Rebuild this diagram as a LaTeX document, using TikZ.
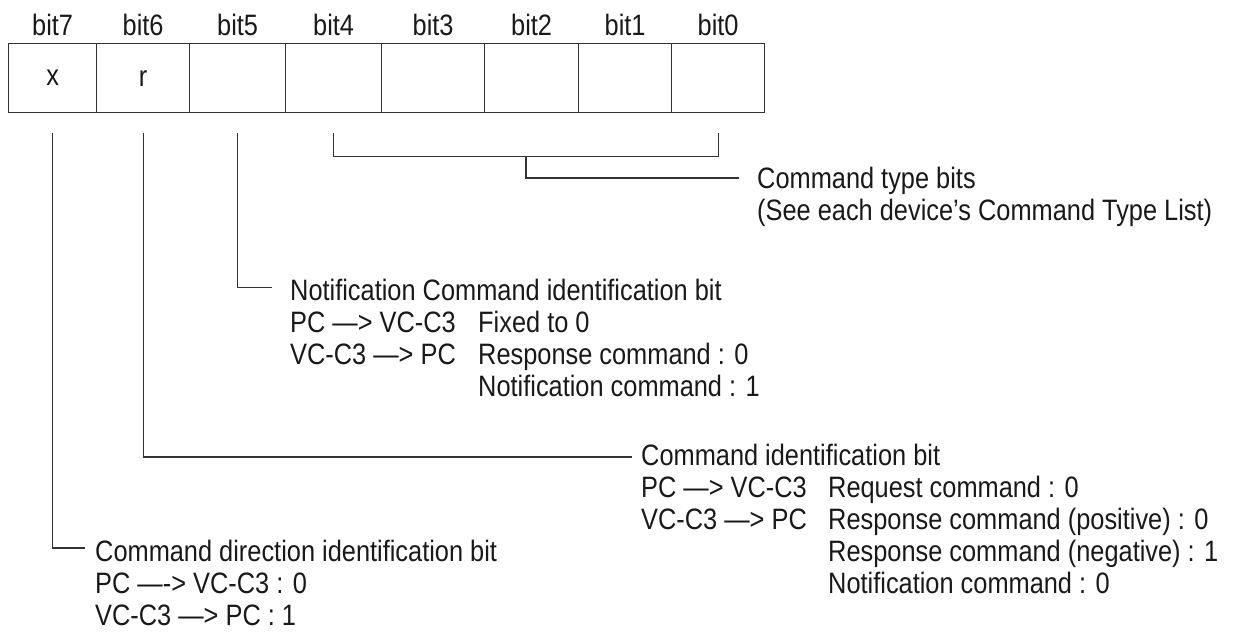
\documentclass[tikz,border=0pt]{standalone}
\usepackage{fontspec}
\setmainfont{Liberation Sans}[FakeStretch=0.86]
\usetikzlibrary{calc}
\begin{document}
\begin{tikzpicture}[x=1pt,y=-1pt,
  every node/.style={font=\fontsize{29.5}{35}\selectfont, inner sep=0pt, text=black!90},
  cell/.style={draw=black!80, line width=1.3pt, minimum height=69pt, anchor=north west},
  bitlbl/.style={anchor=base},
  txt/.style={anchor=base west},
  lead/.style={line width=1.2pt, draw=black!80}]
\useasboundingbox (0,0) rectangle (1233,641);

% register cells
\node[cell, minimum width=88pt]  (c7) at (8,43)   {x};
\node[cell, minimum width=93pt]  (c6) at (96,43)  {r};
\node[cell, minimum width=96pt]  (c5) at (189,43) {};
\node[cell, minimum width=96pt]  (c4) at (285,43) {};
\node[cell, minimum width=103pt] (c3) at (381,43) {};
\node[cell, minimum width=94pt]  (c2) at (484,43) {};
\node[cell, minimum width=93pt]  (c1) at (578,43) {};
\node[cell, minimum width=93pt]  (c0) at (671,43) {};

% bit numbers
\foreach \b in {7,6,...,0}
  \node[bitlbl] (b\b) at ($(c\b.north)+(0,-8)$) {bit\b};

% lead start points under the cells
\foreach \b in {7,6,5,4,0}
  \coordinate (t\b) at ($(c\b.south)+(0,20)$);
\coordinate (k4) at ($(t4)+(0,23)$);
\coordinate (k0) at ($(t0)+(0,23)$);
\coordinate (km) at ($(k4)!0.5!(k0)$);

% command type bits
\node[txt] (typ)  at (757,188.5) {Command type bits};
\node[txt] (typ1) at (757,220.5) {(See each device’s Command Type List)};

% notification command identification bit
\node[txt] (ntf)  at (290,300.5) {Notification Command identification bit};
\node[txt] (ntf1) at (290,332.5) {PC —> VC-C3};
\node[txt] (ntf1v) at (478,332.5) {Fixed to 0};
\node[txt] (ntf2) at (290,364.5) {VC-C3 —> PC};
\node[txt] (ntf2v) at (478,364.5) {Response command : 0};
\node[txt] (ntf3v) at (478,396.5) {Notification command : 1};

% command identification bit
\node[txt] (cid)  at (641,465.5) {Command identification bit};
\node[txt] (cid1) at (641,497.5) {PC —> VC-C3};
\node[txt] (cid1v) at (828,497.5) {Request command : 0};
\node[txt] (cid2) at (641,529.5) {VC-C3 —> PC};
\node[txt] (cid2v) at (828,529.5) {Response command (positive) : 0};
\node[txt] (cid3v) at (828,561.5) {Response command (negative) : 1};
\node[txt] (cid4v) at (828,593.5) {Notification command : 0};

% command direction identification bit
\node[txt] (dir)  at (95,561.5) {Command direction identification bit};
\node[txt] (dir1) at (95,593.5) {PC —-> VC-C3 : 0};
\node[txt] (dir2) at (95,625.5) {VC-C3 —> PC : 1};

% leads
\draw[lead] (t4) -- (k4) -- (k0) -- (t0);
\draw[lead] (km) |- ($(typ.base west)+(-18,-10.5)$);
\draw[lead] (t5) |- ($(ntf.base west)+(-18,-13)$);
\draw[lead] (t6) |- ($(cid.base west)+(-9,-8.5)$);
\draw[lead] (t7) |- ($(dir.base west)+(-10,-13.5)$);
\end{tikzpicture}
\end{document}
